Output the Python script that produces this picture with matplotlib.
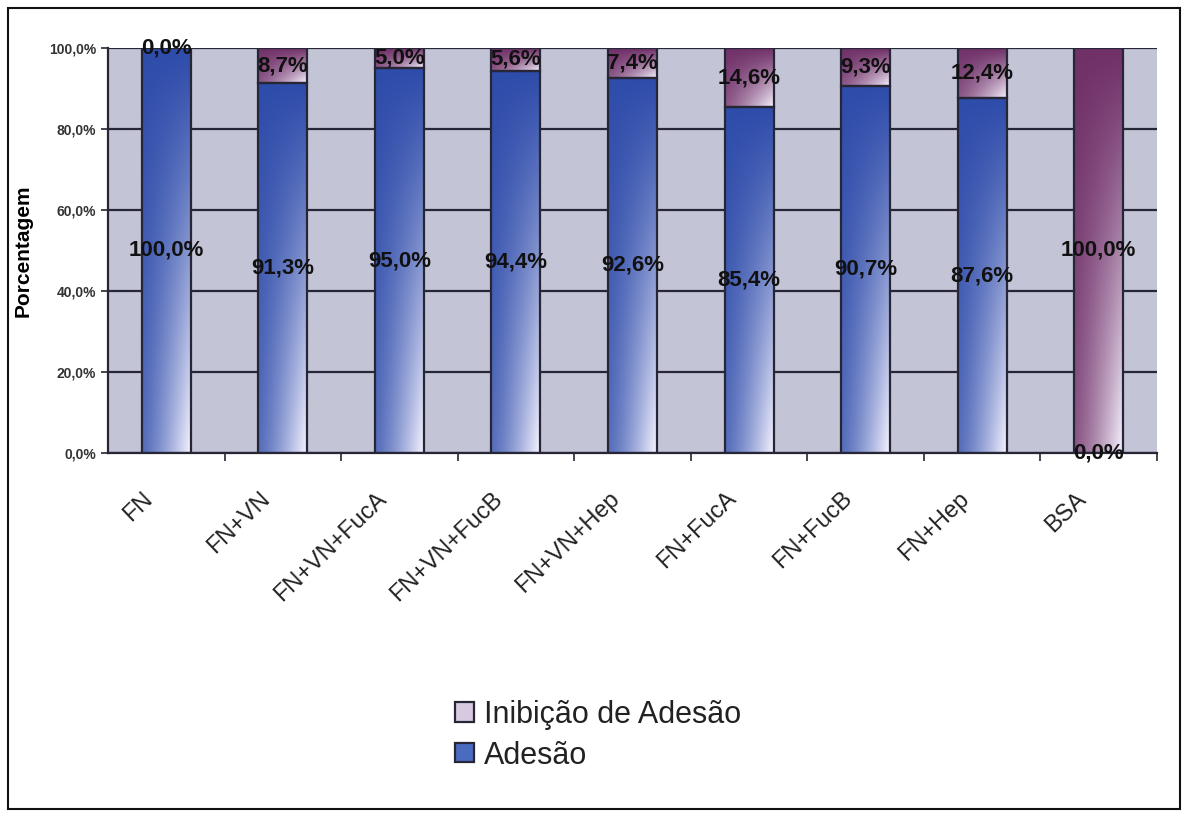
import numpy as np
import matplotlib
matplotlib.use("Agg")
import matplotlib.pyplot as plt
from matplotlib.patches import Patch, Rectangle
from matplotlib.transforms import ScaledTranslation

plt.rcParams['font.family'] = ['Liberation Sans', 'DejaVu Sans']

categorias = ["FN", "FN+VN", "FN+VN+FucA", "FN+VN+FucB", "FN+VN+Hep",
              "FN+FucA", "FN+FucB", "FN+Hep", "BSA"]
adesao = [100.0, 91.3, 95.0, 94.4, 92.6, 85.4, 90.7, 87.6, 0.0]
inibicao = [0.0, 8.7, 5.0, 5.6, 7.4, 14.6, 9.3, 12.4, 100.0]
yticks = [0, 20, 40, 60, 80, 100]

AZUL = np.array([46, 76, 170]) / 255
ROXO = np.array([112, 48, 104]) / 255
BRANCO = np.array([246, 244, 255]) / 255
FUNDO = "#c3c5d6"
LINHA = "#262636"


def gradiente(cor, n=120):
    # escuro em cima/esquerda, clareando para baixo/direita
    xx, yy = np.meshgrid(np.linspace(0, 1, n), np.linspace(0, 1, n))
    w = (0.2 + 0.8 * xx ** 1.3) * (1 - yy) ** 1.1
    w = np.clip(w, 0, 1)[..., None]
    return cor * (1 - w) + BRANCO * w


def pinta(ax, bars, cor):
    for b in bars:
        x0, y0 = b.get_x(), b.get_y()
        w, h = b.get_width(), b.get_height()
        if h <= 0:
            continue
        ax.imshow(gradiente(cor), extent=[x0, x0 + w, y0, y0 + h],
                  origin="lower", aspect="auto", interpolation="bilinear", zorder=2)


fig = plt.figure(figsize=(11.85, 8.16), dpi=100)
ax = fig.add_axes([0.0911, 0.4449, 0.8853, 0.4963])
ax.set_facecolor(FUNDO)

x = np.arange(len(categorias))
larg = 0.42
b1 = ax.bar(x, adesao, larg, facecolor="none", edgecolor=LINHA, lw=1.6, zorder=3)
b2 = ax.bar(x, inibicao, larg, bottom=adesao, facecolor="none", edgecolor=LINHA,
            lw=1.6, zorder=3)
pinta(ax, b1, AZUL)
pinta(ax, b2, ROXO)

ax.set_xlim(-0.5, len(categorias) - 0.5)
ax.set_ylim(0, 100)

def fmt(v):
    return f"{v:.1f}%".replace(".", ",")

for i in range(len(categorias)):
    ax.text(x[i], adesao[i] / 2, fmt(adesao[i]), ha="center", va="center",
            fontsize=16, fontweight="bold", color="#111111", zorder=5)
    ax.text(x[i], adesao[i] + inibicao[i] / 2, fmt(inibicao[i]), ha="center",
            va="center", fontsize=16, fontweight="bold", color="#111111", zorder=5)

ax.set_yticks(yticks)
ax.set_yticklabels([fmt(v) for v in yticks], fontsize=10, fontweight="bold",
                   color="#333333")
ax.yaxis.grid(True, color=LINHA, lw=1.6)
ax.set_axisbelow(True)

ax.set_xticks(x)
ax.set_xticklabels(categorias, rotation=44, ha="right", rotation_mode="anchor",
                   fontsize=17, color="#222222")
ax.tick_params(axis="x", length=0, pad=25)
desloc = ScaledTranslation(-24 / 100, 0, fig.dpi_scale_trans)
for t in ax.get_xticklabels():
    t.set_transform(t.get_transform() + desloc)
ax.set_xticks(np.arange(0.5, len(categorias) - 0.4, 1), minor=True)
ax.tick_params(axis="x", which="minor", length=6, width=1.2, color=LINHA)
ax.tick_params(axis="y", length=5, width=1.2, color=LINHA)

for s in ["top", "right"]:
    ax.spines[s].set_visible(False)
for s in ["left", "bottom"]:
    ax.spines[s].set_color(LINHA)
    ax.spines[s].set_linewidth(1.6)

ax.set_ylabel("Porcentagem", fontsize=15, fontweight="bold", labelpad=12)

handles = [Patch(facecolor="#d8c8e0", edgecolor=LINHA, lw=1.6, label="Inibição de Adesão"),
           Patch(facecolor="#4a6cc0", edgecolor=LINHA, lw=1.6, label="Adesão")]
fig.legend(handles=handles, loc="center", bbox_to_anchor=(0.505, 0.099), frameon=False,
           fontsize=22, handlelength=0.6, handleheight=0.6, handletextpad=0.35,
           labelspacing=0.35, labelcolor="#222222")

fig.add_artist(Rectangle((0.007, 0.008), 0.989, 0.982, transform=fig.transFigure,
                         fill=False, edgecolor="#111111", lw=1.5))

fig.savefig("out.png", dpi=100)
